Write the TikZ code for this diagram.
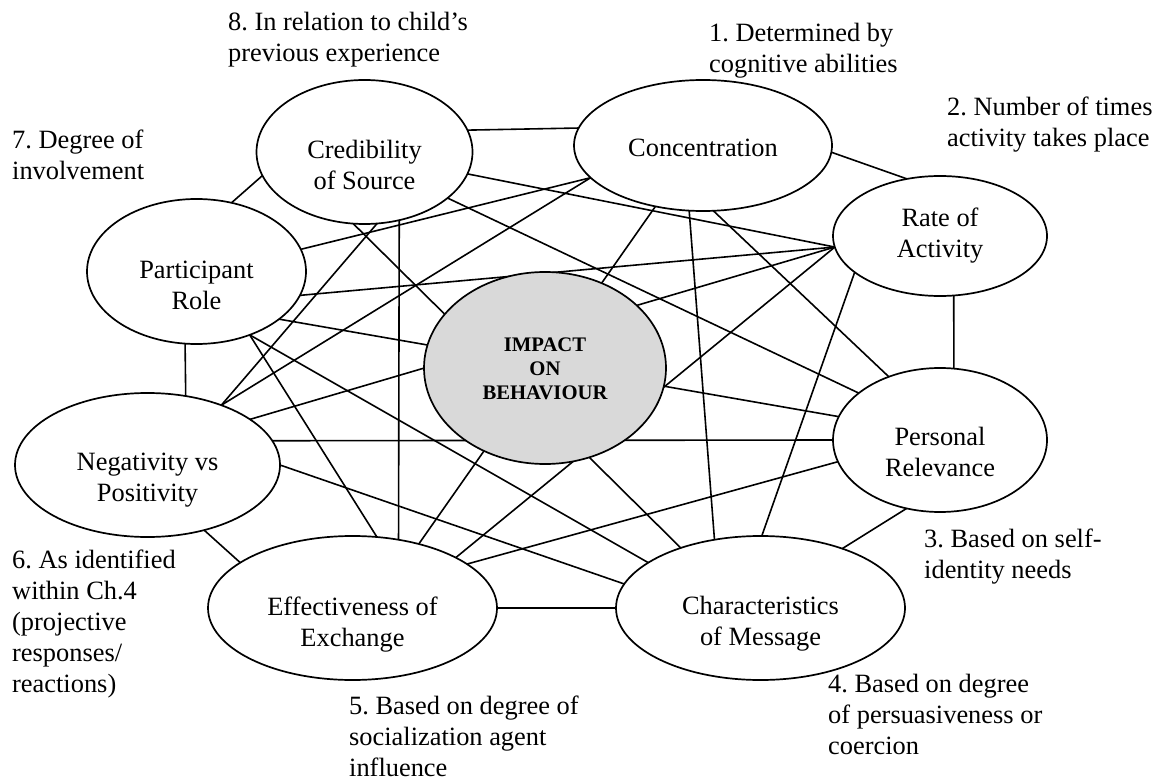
\documentclass[tikz,border=0pt]{standalone}
\usepackage{fontspec}
\setmainfont{Liberation Serif}
\usetikzlibrary{shapes.geometric}
\definecolor{impfill}{RGB}{217,217,217}
\frenchspacing
\begin{document}
\begin{tikzpicture}[x=1pt,y=-1pt,
  oval/.style={draw, ellipse, line width=1.7pt, inner sep=0pt, outer sep=0pt},
  link/.style={line width=1.6pt},
  inlabel/.style={align=center, inner sep=0pt, font=\fontsize{26.4}{31}\selectfont},
  corelabel/.style={align=center, inner sep=0pt, font=\bfseries\fontsize{20.7}{24}\selectfont},
  note/.style={align=left, anchor=north west, inner sep=0pt, font=\fontsize{26.4}{31}\selectfont}
]
\useasboundingbox (0,0) rectangle (1166,783);

% outer factors
\node[oval, minimum width=216pt, minimum height=144pt] (cred) at (364.5,152) {};
\node[oval, minimum width=258pt, minimum height=131pt] (con)  at (703,145.5) {};
\node[oval, minimum width=214pt, minimum height=120pt] (rate) at (940,236) {};
\node[oval, minimum width=219pt, minimum height=145pt] (part) at (196.5,271.5) {};
\node[oval, minimum width=214pt, minimum height=144pt] (pers) at (940,440) {};
\node[oval, minimum width=265pt, minimum height=144pt] (neg)  at (147.5,465) {};
\node[oval, minimum width=289pt, minimum height=144pt] (eff)  at (352.5,608) {};
\node[oval, minimum width=289pt, minimum height=144pt] (char) at (760.5,608) {};

% outer ring
\draw[link] (cred.12.5) -- (con.172.2);
\draw[link] (con.-3.3) -- (rate.120.7);
\draw[link] (rate.-77.8) -- (pers.79.8);
\draw[link] (pers.244.4) -- (char.36.1);
\draw[link] (char.180) -- (eff.0);
\draw[link] (eff.158.5) -- (neg.-49.6);
\draw[link] (neg.61.5) -- (part.-99);
\draw[link] (part.63.6) -- (cred.193.1);

% cross connections
\draw[link] (cred.-12.6) -- (rate.186.4);
\draw[link] (cred.-29.9) -- (pers.150.5);
\draw[link] (cred.-99.2) -- (char.143.9);
\draw[link] (cred.-63.4) -- (eff.56);
\draw[link] (cred.-80.2) -- (neg.39.6);
\draw[link] (con.196) -- (part.12.2);
\draw[link] (con.196) -- (neg.39.6);
\draw[link] (con.232.6) -- (eff.44.8);
\draw[link] (con.-102.9) -- (char.124);
\draw[link] (con.-81.3) -- (pers.129.8);
\draw[link] (rate.186.4) -- (part.-13.2);
\draw[link] (rate.186.4) -- (neg.24.1);
\draw[link] (rate.186.4) -- (eff.26.7);
\draw[link] (rate.203.8) -- (char.89.6);
\draw[link] (pers.167.4) -- (part.-30.1);
\draw[link] (pers.180) -- (neg.11.2);
\draw[link] (pers.192.6) -- (eff.21.5);
\draw[link] (char.158.5) -- (part.-50.2);
\draw[link] (char.170.8) -- (neg.0);
\draw[link] (eff.71.9) -- (part.-50.2);

% central factor drawn on top
\node[oval, fill=impfill, minimum width=242pt, minimum height=192pt] (imp) at (545,368) {};
\node[corelabel] (timp) at (545,369) {IMPACT\\ON\\BEHAVIOUR};

% factor names
\node[inlabel] (tcred) at (364.5,165) {Credibility\\of Source};
\node[inlabel] (tcon)  at (703,148) {Concentration};
\node[inlabel] (trate) at (940,236) {Rate of\\Activity};
\node[inlabel] (tpart) at (196.5,285) {Participant\\Role};
\node[inlabel] (tpers) at (940,452) {Personal\\Relevance};
\node[inlabel] (tneg)  at (147.5,480) {Negativity vs\\Positivity};
\node[inlabel] (teff)  at (352.5,625) {Effectiveness of\\Exchange};
\node[inlabel] (tchar) at (760.5,624) {Characteristics\\of Message};

% numbered notes
\node[note] (n1) at (709,23) {1. Determined by\\cognitive abilities};
\node[note] (n2) at (947,97) {2. Number of times\\activity takes place};
\node[note] (n3) at (924,529) {3. Based on self-\\identity needs};
\node[note] (n4) at (828,674) {4. Based on degree\\of persuasiveness or\\coercion};
\node[note] (n5) at (349,696) {5. Based on degree of\\socialization agent\\influence};
\node[note] (n6) at (12,550) {6. As identified\\within Ch.4\\(projective\\responses/\\reactions)};
\node[note] (n7) at (12,130) {7. Degree of\\involvement};
\node[note] (n8) at (228,12) {8. In relation to child’s\\previous experience};
\end{tikzpicture}
\end{document}
